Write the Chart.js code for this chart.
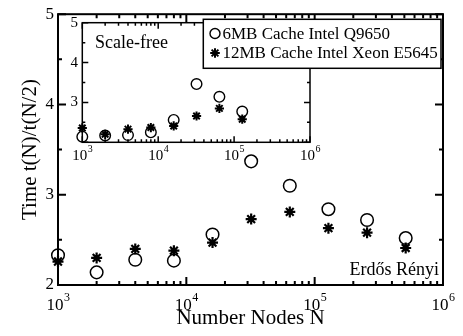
<!DOCTYPE html>
<html><head><meta charset="utf-8">
<script src="https://cdn.jsdelivr.net/npm/chart.js@4"></script>
<style>
html,body{margin:0;padding:0;background:#fff;}
#wrap{position:relative;width:463px;height:336px;}
canvas{position:absolute;left:0;top:0;}
</style></head><body>
<div id="wrap"><canvas id="inset" width="463" height="336"></canvas><canvas id="main" width="463" height="336"></canvas></div>
<script>
// ---- data ----
const nodesMain = [1000, 2000, 4000, 8000, 16000, 32000, 64000, 128000, 256000, 512000];
const erQ9650   = [2.33, 2.14, 2.28, 2.27, 2.56, 3.37, 3.10, 2.84, 2.72, 2.52];
const erXeon    = [2.26, 2.30, 2.40, 2.38, 2.47, 2.73, 2.81, 2.63, 2.58, 2.41];
const nodesInset = [1000, 2000, 4000, 8000, 16000, 32000, 64000, 128000];
const sfQ9650   = [2.14, 2.17, 2.18, 2.25, 2.56, 3.46, 3.14, 2.77];
const sfXeon    = [2.36, 2.20, 2.33, 2.37, 2.41, 2.66, 2.85, 2.58];
const xTickExps = [3, 4, 5, 6];
const seriesLabels = ['6MB Cache Intel Q9650', '12MB Cache Intel Xeon E5645'];
const mainLabel = 'Erdős Rényi';
const insetLabel = 'Scale-free';
const xTitle = 'Number Nodes N';
const yTitle = 'Time t(N)/t(N/2)';

const FONT = '"Liberation Serif", "Times New Roman", serif';

function pts(xs, ys) { return xs.map((n, i) => ({x: n, y: ys[i]})); }

function drawStar(ctx, cx, cy, r, lw) {
  ctx.save(); ctx.lineWidth = lw; ctx.strokeStyle = '#000'; ctx.beginPath();
  for (let k = 0; k < 4; k++) {
    const a = k * Math.PI / 4;
    ctx.moveTo(cx - r * Math.cos(a), cy - r * Math.sin(a));
    ctx.lineTo(cx + r * Math.cos(a), cy + r * Math.sin(a));
  }
  ctx.stroke(); ctx.restore();
}

function framePlugin(cfg) {
  return {
    id: 'frame',
    afterDatasetsDraw(chart) {
      const {ctx, chartArea: a, scales: {x, y}} = chart;
      ctx.save();
      ctx.strokeStyle = '#000'; ctx.lineWidth = cfg.lw;
      ctx.strokeRect(a.left, a.top, a.right - a.left, a.bottom - a.top);
      ctx.beginPath();
      for (let e = xTickExps[0]; e <= xTickExps[xTickExps.length - 1]; e++) {
        for (let m = 1; m <= 9; m++) {
          const v = m * Math.pow(10, e);
          if (v > x.max * 1.0001) break;
          const px = x.getPixelForValue(v);
          const L = m === 1 ? cfg.maj : cfg.min;
          ctx.moveTo(px, a.bottom); ctx.lineTo(px, a.bottom - L);
          ctx.moveTo(px, a.top); ctx.lineTo(px, a.top + L);
        }
      }
      for (let v = y.min; v <= y.max + 1e-9; v += 0.5) {
        const py = y.getPixelForValue(v);
        const L = Number.isInteger(v) ? cfg.maj : cfg.min;
        ctx.moveTo(a.left, py); ctx.lineTo(a.left + L, py);
        ctx.moveTo(a.right, py); ctx.lineTo(a.right - L, py);
      }
      ctx.stroke();
      // x tick labels with superscript exponent
      ctx.fillStyle = '#000'; ctx.textBaseline = 'alphabetic'; ctx.textAlign = 'left';
      xTickExps.forEach(e => {
        const px = x.getPixelForValue(Math.pow(10, e));
        ctx.font = cfg.base + 'px ' + FONT;
        const w1 = ctx.measureText('10').width;
        ctx.font = cfg.exp + 'px ' + FONT;
        const w2 = ctx.measureText(String(e)).width;
        const sx = px - (w1 + w2) / 2;
        ctx.font = cfg.base + 'px ' + FONT;
        ctx.fillText('10', sx, cfg.baseY);
        ctx.font = cfg.exp + 'px ' + FONT;
        ctx.fillText(String(e), sx + w1 + 0.5, cfg.baseY - cfg.raise);
      });
      // annotation text
      ctx.font = cfg.noteSize + 'px ' + FONT;
      ctx.textAlign = cfg.noteAlign;
      ctx.fillText(cfg.note, cfg.noteX, cfg.noteY);
      ctx.restore();
    }
  };
}

const legendPlugin = {
  id: 'boxLegend',
  afterDraw(chart) {
    const ctx = chart.ctx;
    const L = 203.3, T = 19.3, R = 441, B = 68.3;
    ctx.save();
    ctx.fillStyle = '#fff'; ctx.fillRect(L, T, R - L, B - T);
    ctx.strokeStyle = '#000'; ctx.lineWidth = 1.5; ctx.strokeRect(L, T, R - L, B - T);
    const rows = [33.5, 53];
    chart.data.datasets.forEach((ds, i) => {
      const cy = rows[i];
      if (ds.pointStyle === 'circle') {
        ctx.beginPath(); ctx.lineWidth = 1.4; ctx.arc(215, cy, 5, 0, Math.PI * 2); ctx.stroke();
      } else {
        drawStar(ctx, 215, cy, 4.8, 2);
      }
      ctx.fillStyle = '#000'; ctx.font = '17px ' + FONT; ctx.textBaseline = 'middle'; ctx.textAlign = 'left';
      ctx.fillText(ds.label, 222.5, cy + 1);
    });
    ctx.restore();
  }
};

// ---- inset (drawn underneath) ----
new Chart(document.getElementById('inset'), {
  type: 'scatter',
  data: {datasets: [
    {label: seriesLabels[0], data: pts(nodesInset, sfQ9650), pointStyle: 'circle', pointRadius: 5.3,
     pointBorderWidth: 1.4, borderColor: '#000', backgroundColor: 'rgba(0,0,0,0)', clip: false},
    {label: seriesLabels[1], data: pts(nodesInset, sfXeon), pointStyle: 'star', pointRadius: 4.6,
     pointBorderWidth: 2, borderColor: '#000', backgroundColor: '#000', clip: false}
  ]},
  options: {
    responsive: false, animation: false, devicePixelRatio: 1,
    layout: {padding: {left: 62, right: 153, top: 22.7, bottom: 173.7}},
    plugins: {legend: {display: false}, tooltip: {enabled: false}},
    scales: {
      x: {type: 'logarithmic', min: 1e3, max: 1e6, ticks: {display: false},
          grid: {display: false, drawTicks: false}, border: {display: false},
          afterFit(s) { s.height = 20; }},
      y: {min: 2, max: 5, ticks: {stepSize: 1, padding: 4.3, color: '#000',
          font: {family: FONT, size: 15}, callback: v => (v === 2 ? '' : String(v))},
          grid: {display: false, drawTicks: false}, border: {display: false},
          afterFit(s) { s.width = 20.3; }}
    }
  },
  plugins: [framePlugin({lw: 1.5, maj: 6, min: 3, base: 15, exp: 10, baseY: 160, raise: 8,
    note: insetLabel, noteSize: 18, noteAlign: 'left', noteX: 95, noteY: 47.7})]
});

// ---- main chart (on top) ----
new Chart(document.getElementById('main'), {
  type: 'scatter',
  data: {datasets: [
    {label: seriesLabels[0], data: pts(nodesMain, erQ9650), pointStyle: 'circle', pointRadius: 6.3,
     pointBorderWidth: 1.5, borderColor: '#000', backgroundColor: 'rgba(0,0,0,0)', clip: false},
    {label: seriesLabels[1], data: pts(nodesMain, erXeon), pointStyle: 'star', pointRadius: 5.5,
     pointBorderWidth: 2.2, borderColor: '#000', backgroundColor: '#000', clip: false}
  ]},
  options: {
    responsive: false, animation: false, devicePixelRatio: 1,
    layout: {padding: {left: 0, right: 20, top: 14, bottom: 0}},
    plugins: {legend: {display: false}, tooltip: {enabled: false}},
    scales: {
      x: {type: 'logarithmic', min: 1e3, max: 1e6, ticks: {display: false},
          grid: {display: false, drawTicks: false}, border: {display: false},
          title: {display: true, text: xTitle, color: '#000', font: {family: FONT, size: 21},
                  padding: {top: 0, bottom: 5}},
          afterFit(s) { s.height = 51; }},
      y: {min: 2, max: 5, ticks: {stepSize: 1, padding: 4, color: '#000', font: {family: FONT, size: 17}},
          grid: {display: false, drawTicks: false}, border: {display: false},
          title: {display: true, text: yTitle, color: '#000', font: {family: FONT, size: 21},
                  padding: {top: 18, bottom: 0}},
          afterFit(s) { s.width = 58; }}
    }
  },
  plugins: [framePlugin({lw: 2, maj: 8, min: 4, base: 17, exp: 12, baseY: 309.5, raise: 9,
    note: mainLabel, noteSize: 18, noteAlign: 'right', noteX: 439, noteY: 274.5}), legendPlugin]
});
</script>
</body></html>
